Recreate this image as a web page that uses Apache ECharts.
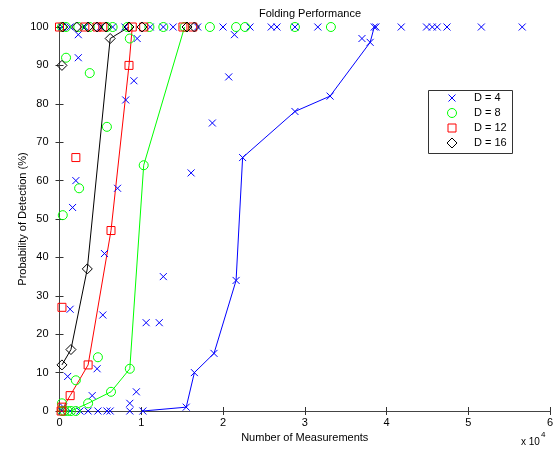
<!DOCTYPE html>
<html><head><meta charset="utf-8">
<script src="https://cdn.jsdelivr.net/npm/echarts@6/dist/echarts.min.js"></script>
<style>html,body{margin:0;padding:0;background:#fff}#c{width:560px;height:449px}</style>
</head><body><div id="c"></div>
<script>
// ---- data ----
const xTicks = [0, 10000, 20000, 30000, 40000, 50000, 60000];
const xTickLabels = ['0', '1', '2', '3', '4', '5', '6'];
const yTicks = [0,10,20,30,40,50,60,70,80,90,100];
const seriesNames = ['D = 4', 'D = 8', 'D = 12', 'D = 16'];

// connected curves [measurements, probability %]
const lineD4 = [[10200,0],[15500,1],[16500,10],[18900,15],[21600,34],[22400,66],[28800,78],[33100,82],[38000,96],[38500,100]];
const lineD8 = [[300,0],[1400,0],[3500,2],[6300,5],[8600,11],[10300,64],[15300,100]];
const lineD12 = [[200,0],[1300,4],[3500,12],[6300,47],[8500,90],[8900,100]];
const lineD16 = [[300,12],[1400,16],[3400,37],[6200,97],[8500,100]];

// unconnected points
const extraD4 = [[300,100],[1300,100],[3100,100],[5000,100],[6500,100],[8000,100],[11100,100],[12700,100],[13900,100],[16900,100],[20000,100],[23300,100],[25900,100],[26600,100],[28800,100],[31600,100],[37000,97],[38700,100],[41800,100],[44900,100],[45600,100],[46200,100],[47400,100],[51600,100],[56600,100],
  [2300,98],[2300,92],[9500,97],[9100,86],[8100,81],[20700,87],[18700,75],[21400,98],[16100,62],[2000,60],[1600,53],[7100,58],[5500,41],[12700,35],[1300,26.5],[5300,25],[10600,23],[12200,23],[1000,9],[4600,11],[4000,4],[9400,5],[8600,2],
  [300,0],[1300,0],[2500,0],[3500,0],[4700,0],[5800,0],[6200,0],[8600,0],[500,1]];
const extraD8 = [[300,100],[800,100],[2300,100],[3700,100],[5800,100],[6500,100],[8300,100],[11000,100],[12700,100],[18400,100],[21600,100],[22700,100],[28800,100],[33200,100],
  [800,92],[3700,88],[8600,97],[5800,74],[2400,58],[400,51],[4700,14],[2000,8],[300,2],[600,0],[1000,0],[2000,0]];
const extraD12 = [[300,27],[2000,66],[0,100],[3100,100],[4600,100],[5300,100],[10300,100],[15100,100],[16300,100],[300,1]];
const extraD16 = [[300,90],[400,100],[2100,100],[3500,100],[4600,100],[5700,100],[10100,100],[15600,100],[16500,100]];

const colors = ['#0000ff', '#00ff00', '#ff0000', '#000000'];
const xPath = 'path://M0,0L10,10M10,0L0,10';
const symbols = [xPath, 'circle', 'rect', 'diamond'];
const symSizes = [7, 9, 8, 10];
const lines = [lineD4, lineD8, lineD12, lineD16];
const extras = [extraD4, extraD8, extraD12, extraD16];

const FONT = 'Liberation Sans, Arial, sans-serif';
const series = [];
for (let i = 0; i < 4; i++) {
  series.push({
    name: seriesNames[i] + ' curve', type: 'line', data: lines[i], showSymbol: false,
    lineStyle: { color: colors[i], width: 1 }, itemStyle: { color: colors[i] }, silent: true, animation: false, z: 2
  });
}
for (let i = 0; i < 4; i++) {
  series.push({
    name: seriesNames[i], type: 'scatter', data: lines[i].concat(extras[i]),
    symbol: symbols[i], symbolSize: symSizes[i],
    itemStyle: { color: 'transparent', borderColor: colors[i], borderWidth: 1, opacity: 1 },
    animation: false, z: 3
  });
}

// legend drawn as a boxed key
const LX = 428, LY = 90, LW = 84, LH = 63, ROW0 = 98, ROWH = 15, SX = 452, TX = 474;
const legendEls = [{ type: 'rect', shape: { x: LX + 0.5, y: LY + 0.5, width: LW, height: LH },
  style: { fill: '#fff', stroke: '#333', lineWidth: 1 }, z: 10 }];
seriesNames.forEach((n, i) => {
  const cy = ROW0 + i * ROWH;
  let shape;
  if (i === 0) shape = { type: 'polyline', shape: { points: [[SX-3.5,cy-3.5],[SX+3.5,cy+3.5]] }, style: { stroke: colors[i], lineWidth: 1 } };
  if (i === 1) shape = { type: 'circle', shape: { cx: SX, cy: cy, r: 4.5 }, style: { fill: 'none', stroke: colors[i], lineWidth: 1 } };
  if (i === 2) shape = { type: 'rect', shape: { x: SX-4, y: cy-4, width: 8, height: 8 }, style: { fill: 'none', stroke: colors[i], lineWidth: 1 } };
  if (i === 3) shape = { type: 'polygon', shape: { points: [[SX,cy-5],[SX+5,cy],[SX,cy+5],[SX-5,cy]] }, style: { fill: 'none', stroke: colors[i], lineWidth: 1 } };
  shape.z = 11;
  legendEls.push(shape);
  if (i === 0) legendEls.push({ type: 'polyline', z: 11, shape: { points: [[SX+3.5,cy-3.5],[SX-3.5,cy+3.5]] }, style: { stroke: colors[i], lineWidth: 1 } });
  legendEls.push({ type: 'text', z: 11, x: TX, y: cy, style: { text: n, fontFamily: FONT, fontSize: 11, fill: '#000', verticalAlign: 'middle' } });
});

const chart = echarts.init(document.getElementById('c'), null, { renderer: 'canvas' });
const axisLineStyle = { color: '#444', width: 1 };
chart.setOption({
  backgroundColor: '#fff',
  animation: false,
  textStyle: { fontFamily: FONT },
  title: { text: 'Folding Performance', left: 305, top: 3, textAlign: 'center',
    textStyle: { fontFamily: FONT, fontSize: 11, fontWeight: 'normal', color: '#000' } },
  grid: { left: 59.5, right: 10, top: 27, bottom: 38 },
  xAxis: [{
    type: 'value', min: 0, max: 60000, interval: 10000, position: 'bottom',
    name: 'Number of Measurements', nameLocation: 'middle', nameGap: 19,
    nameTextStyle: { fontFamily: FONT, fontSize: 11, color: '#000' },
    axisLine: { show: true, lineStyle: axisLineStyle },
    axisTick: { show: true, inside: true, length: 4, lineStyle: { color: '#333' } },
    axisLabel: { fontFamily: FONT, fontSize: 11, color: '#000', margin: 6,
      formatter: v => xTickLabels[xTicks.indexOf(v)] },
    splitLine: { show: false }
  }, {
    type: 'value', min: 0, max: 60000, interval: 10000, position: 'top',
    axisLine: { show: true, lineStyle: axisLineStyle },
    axisTick: { show: true, inside: true, length: 4, lineStyle: { color: '#333' } },
    axisLabel: { show: false }, splitLine: { show: false }
  }],
  yAxis: [{
    type: 'value', min: 0, max: 100, interval: 10, position: 'left',
    name: 'Probability of Detection (%)', nameLocation: 'middle', nameGap: 31, nameMoveOverlap: false,
    nameTextStyle: { fontFamily: FONT, fontSize: 11, color: '#000' },
    axisLine: { show: true, lineStyle: axisLineStyle },
    axisTick: { show: true, inside: true, length: 4, lineStyle: { color: '#333' } },
    axisLabel: { fontFamily: FONT, fontSize: 11, color: '#000', margin: 11 },
    splitLine: { show: false }
  }, {
    type: 'value', min: 0, max: 100, interval: 10, position: 'right',
    axisLine: { show: true, lineStyle: axisLineStyle },
    axisTick: { show: true, inside: true, length: 4, lineStyle: { color: '#333' } },
    axisLabel: { show: false }, splitLine: { show: false }
  }],
  graphic: legendEls.concat([{
    type: 'text', left: 521, top: 431,
    style: { text: '{a|x 10}{b|4}', rich: {
      a: { fontFamily: FONT, fontSize: 10, fill: '#000', verticalAlign: 'bottom' },
      b: { fontFamily: FONT, fontSize: 8, fill: '#000', padding: [0, 0, 8, 1] } } }
  }]),
  series: series
});
</script></body></html>
